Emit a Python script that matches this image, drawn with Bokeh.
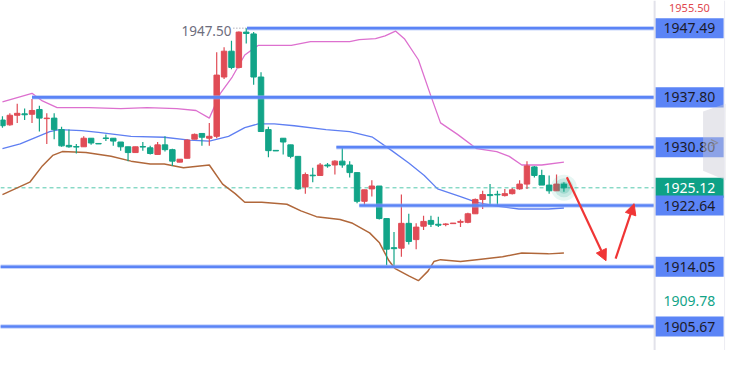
from bokeh.plotting import figure
from bokeh.models import Range1d, Span, Arrow, NormalHead, ColumnDataSource
from bokeh.embed import file_html
from bokeh.resources import INLINE
from bokeh.core.properties import value

# ---------------- data (prices) ----------------
open_ = [1934.62, 1933.95, 1935.29, 1935.49, 1935.43, 1936.10, 1934.82, 1934.89, 1933.28, 1931.07,
         1930.91, 1930.87, 1932.07, 1931.34, 1932.11, 1932.07, 1931.54, 1930.87, 1930.06, 1930.91,
         1930.73, 1929.80, 1931.14, 1930.47, 1928.72, 1929.26, 1931.94, 1932.74, 1932.07, 1932.34,
         1940.65, 1944.27, 1941.99, 1946.95, 1946.69, 1940.65, 1933.28, 1930.37, 1932.07, 1931.14,
         1929.53, 1925.24, 1926.89, 1926.85, 1928.32, 1928.32, 1928.86, 1928.32, 1927.25, 1923.23,
         1924.97, 1925.37, 1920.81, 1916.73, 1916.66, 1920.14, 1917.86, 1919.74, 1920.55, 1920.01,
         1919.97, 1920.10, 1920.28, 1920.28, 1921.48, 1923.49, 1924.17, 1924.21, 1924.03, 1924.30,
         1924.97, 1925.64, 1928.05, 1926.85, 1925.50, 1924.70, 1925.64]
close = [1933.82, 1935.29, 1935.56, 1935.36, 1935.96, 1934.89, 1934.89, 1933.28, 1931.00, 1930.87,
         1930.83, 1932.07, 1931.40, 1931.27, 1932.03, 1931.67, 1930.87, 1930.06, 1930.87, 1930.83,
         1929.93, 1931.14, 1930.47, 1928.86, 1929.13, 1931.81, 1932.61, 1932.21, 1932.34, 1940.92,
         1944.27, 1941.99, 1946.95, 1946.75, 1940.65, 1933.01, 1930.33, 1930.29, 1931.54, 1929.53,
         1924.97, 1926.98, 1926.81, 1928.32, 1928.19, 1928.86, 1928.32, 1927.25, 1923.23, 1924.84,
         1925.37, 1920.81, 1916.52, 1916.59, 1920.14, 1917.60, 1919.61, 1920.41, 1920.01, 1919.88,
         1920.05, 1920.18, 1920.41, 1921.48, 1923.49, 1924.17, 1924.03, 1924.13, 1924.30, 1924.84,
         1925.64, 1928.19, 1926.85, 1925.50, 1924.70, 1925.64, 1925.12]
high = [1935.16, 1935.56, 1936.90, 1936.23, 1937.57, 1936.63, 1935.56, 1935.56, 1933.68, 1933.28,
        1931.27, 1932.34, 1932.07, 1931.34, 1932.61, 1932.07, 1931.54, 1930.87, 1930.87, 1931.54,
        1931.00, 1931.54, 1932.34, 1930.60, 1929.13, 1931.94, 1932.74, 1932.74, 1934.22, 1944.14,
        1944.81, 1945.75, 1947.02, 1947.50, 1946.95, 1941.32, 1933.68, 1930.37, 1932.07, 1931.14,
        1929.53, 1927.25, 1927.92, 1928.59, 1928.59, 1928.99, 1930.87, 1928.86, 1927.25, 1924.84,
        1926.18, 1925.37, 1920.81, 1918.94, 1924.17, 1921.48, 1920.14, 1921.22, 1921.22, 1921.08,
        1920.14, 1920.18, 1920.68, 1921.62, 1923.63, 1924.70, 1925.64, 1924.70, 1924.97, 1925.10,
        1926.18, 1928.86, 1928.19, 1927.65, 1926.85, 1926.98, 1925.91]
low = [1933.55, 1933.82, 1934.22, 1934.62, 1934.22, 1933.01, 1931.27, 1931.94, 1930.87, 1930.73,
       1929.93, 1930.87, 1931.14, 1931.27, 1931.67, 1931.00, 1930.33, 1928.86, 1930.06, 1930.33,
       1929.80, 1929.80, 1930.20, 1928.19, 1928.72, 1929.26, 1931.94, 1931.00, 1931.00, 1932.07,
       1940.39, 1941.73, 1941.86, 1945.35, 1939.58, 1933.01, 1929.39, 1930.29, 1929.80, 1929.26,
       1924.84, 1924.30, 1925.91, 1926.85, 1927.92, 1926.98, 1927.92, 1926.58, 1922.96, 1922.56,
       1923.90, 1920.68, 1914.25, 1914.11, 1915.45, 1917.19, 1916.52, 1919.21, 1919.61, 1919.61,
       1919.74, 1920.10, 1919.61, 1920.14, 1921.48, 1922.15, 1922.82, 1922.69, 1923.90, 1924.17,
       1924.84, 1924.97, 1926.58, 1925.50, 1924.30, 1924.70, 1924.57]

upper_x = [0, 4, 5.4, 7.4, 11.7, 16, 19.6, 23.6, 26.2, 28, 29.5, 31.1, 32.8, 34.6, 39.1, 41.7, 47,
           48.3, 50.5, 51.8, 53.2, 54.4, 56.3, 58, 59.3, 61.6, 64.2, 66.9, 68.6, 70.3, 73, 76]
upper_y = [1937.17, 1938.37, 1937.30, 1936.36, 1936.36, 1936.23, 1936.36, 1936.23, 1935.96, 1934.89,
           1938.37, 1940.65, 1943.74, 1945.08, 1945.08, 1945.61, 1945.61, 1945.88, 1946.02, 1946.42,
           1947.09, 1946.02, 1943.07, 1937.97, 1934.22, 1932.61, 1930.60, 1930.20, 1929.53, 1928.32,
           1928.32, 1928.72]
mid_x = [0, 2.4, 6.4, 7.7, 10.7, 13, 17.4, 21.9, 25.3, 28, 30.6, 32.8, 34.6, 36.8, 39.5, 43.8, 47,
         50.1, 52.7, 55, 57.1, 58.9, 62, 64.2, 66.9, 69.9, 73.9, 76]
mid_y = [1930.60, 1931.27, 1933.01, 1933.28, 1933.15, 1932.88, 1932.34, 1932.21, 1931.81, 1931.67,
         1932.34, 1933.55, 1934.08, 1934.08, 1933.82, 1933.28, 1933.01, 1932.21, 1930.33, 1928.59,
         1926.85, 1924.97, 1923.90, 1923.09, 1922.56, 1922.15, 1922.15, 1922.29]
lower_x = [0, 3.7, 5.4, 6.8, 8.1, 11.3, 14.7, 17.4, 20, 21.9, 24.5, 28, 29.8, 31.5, 32.8, 35.1, 38.5,
           40.4, 42.5, 45.7, 47.4, 49.7, 51, 52.3, 53.1, 55, 56.3, 57.6, 58.4, 59.3, 62, 64.2, 67.7,
           70.3, 73.9, 76]
lower_y = [1924.17, 1925.91, 1928.19, 1929.66, 1930.20, 1930.06, 1929.53, 1928.86, 1928.45, 1928.45,
           1927.92, 1928.32, 1925.64, 1924.30, 1923.09, 1923.09, 1922.82, 1921.89, 1921.08, 1920.68,
           1920.14, 1918.80, 1917.46, 1914.92, 1913.84, 1912.77, 1912.10, 1913.44, 1914.78, 1915.05,
           1914.78, 1915.05, 1915.45, 1915.99, 1915.86, 1915.99]

levels = [1947.49, 1937.80, 1930.80, 1922.64, 1914.05, 1905.67]
level_start = [33.1, 4.0, 45.2, 48.3, -0.3, -0.3]
last_price = 1925.12
day_high = 1947.50
top_price_text = "1955.50"
low_marker = 1909.78
arrow1 = dict(x0=76.4, y0=1926.6, x1=81.7, y1=1914.9)
arrow2 = dict(x0=83.0, y0=1915.2, x1=85.5, y1=1922.9)

# ---------------- layout helpers (reference pixel -> data) ----------------
BAR_PX, BAR0_PX = 7.55, 2.0
Y_TOP, PX_PER_UNIT = 1951.377, 7.46
def px_x(px):
    return (px - BAR0_PX) / BAR_PX
def px_y(py):
    return Y_TOP - py / PX_PER_UNIT

RED = "#e04c56"
GREEN = "#12a488"
BLUE = "#5b84f6"
FONT = value("Noto Sans")

p = figure(width=728, height=350, output_backend="svg", toolbar_location=None,
           x_range=Range1d(px_x(0), px_x(744)), y_range=Range1d(px_y(366), px_y(0)),
           x_axis_type=None, y_axis_type=None, min_border=0)
p.outline_line_color = None
p.xgrid.visible = False
p.ygrid.visible = False
p.background_fill_color = "white"

axis_x0 = px_x(668.5)

# dashed last-price line
p.segment(x0=[px_x(0)], y0=[last_price], x1=[axis_x0], y1=[last_price],
          line_color="#52c8ad", line_width=1, line_dash="4 3")

# bands
p.line(upper_x, upper_y, line_color="#dd70cf", line_width=1.3)
p.line(mid_x, mid_y, line_color="#5f7ff2", line_width=1.3)
p.line(lower_x, lower_y, line_color="#b0673a", line_width=1.5)

# candles
idx = list(range(len(open_)))
cols = [RED if c >= o else GREEN for o, c in zip(open_, close)]
src = ColumnDataSource(dict(x=idx, o=open_, c=close, h=high, l=low,
                            top=[max(o, c) for o, c in zip(open_, close)],
                            bot=[min(o, c) for o, c in zip(open_, close)], col=cols))
p.segment(x0="x", y0="h", x1="x", y1="l", line_color="col", line_width=1.2, source=src)
p.vbar(x="x", top="top", bottom="bot", width=0.74, fill_color="col", line_color="col",
       line_width=1, source=src)

# glow on last candle
for s, a in [(26, 0.10), (19, 0.16), (12, 0.22)]:
    p.scatter([idx[-1]], [last_price], size=s, fill_color=GREEN, fill_alpha=a, line_color=None)

# horizontal levels
p.segment(x0=level_start, y0=levels, x1=[axis_x0] * len(levels), y1=levels,
          line_color="#8fabf8", line_width=4.5, line_alpha=0.5)
p.segment(x0=level_start, y0=levels, x1=[axis_x0] * len(levels), y1=levels,
          line_color=BLUE, line_width=2.6)

# high marker
p.segment(x0=[px_x(238)], y0=[day_high], x1=[33], y1=[day_high],
          line_color="#888899", line_width=1, line_dash="1 2")
p.text(x=[px_x(236)], y=[day_high], text=[f"{day_high:.2f}"], text_align="right",
       text_baseline="middle", y_offset=3, text_font=FONT, text_font_size="13.5px",
       text_color="#6d6d7d")

# separator for price scale
p.add_layout(Span(location=axis_x0, dimension="height", line_color="#e2e2ea", line_width=2))
p.add_layout(Span(location=px_x(740), dimension="height", line_color="#ececf2", line_width=1))

box_cx = px_x(704)
box_w = 70 / BAR_PX
box_h = 21 / PX_PER_UNIT

# last price box (green) then level boxes
p.rect(x=[box_cx], y=[last_price], width=box_w, height=box_h, fill_color="#0ea186",
       line_color=None)
p.text(x=[box_cx], y=[last_price], text=[f"{last_price:.2f}"], text_align="center",
       text_baseline="middle", text_font=FONT, text_font_size="14px", text_color="white")
p.rect(x=[box_cx] * len(levels), y=levels, width=box_w, height=box_h, fill_color=BLUE,
       line_color=None)
p.text(x=[box_cx] * len(levels), y=levels, text=[f"{v:.2f}" for v in levels],
       text_align="center", text_baseline="middle", text_font=FONT, text_font_size="14px",
       text_color="#1b1b2b")

# other price-scale texts
p.text(x=[box_cx], y=[low_marker], text=[f"{low_marker:.2f}"], text_align="center",
       text_baseline="middle", y_offset=4, text_font=FONT, text_font_size="14px",
       text_color="#12a488")
p.text(x=[box_cx], y=[px_y(0)], text=[top_price_text], text_align="center",
       text_baseline="top", y_offset=3, text_font=FONT, text_font_size="11px",
       text_color="#e0474e")

# collapse button on the price scale
p.patch([px_x(718), px_x(741), px_x(741), px_x(718)],
        [px_y(116), px_y(108), px_y(188), px_y(178)],
        fill_color="#c9c9d4", fill_alpha=0.45, line_color=None)
p.text(x=[px_x(730)], y=[px_y(148)], text=[">"], text_align="center", text_baseline="middle",
       text_font=FONT, text_font_size="15px", text_color="#8a8a96")

# red forecast arrows
for a in (arrow1, arrow2):
    p.add_layout(Arrow(end=NormalHead(size=11, fill_color="#f03535", line_color="#f03535"),
                       x_start=a["x0"], y_start=a["y0"], x_end=a["x1"], y_end=a["y1"],
                       line_color="#f03535", line_width=2.2))

open("out.html", "w").write(file_html(p, INLINE))
